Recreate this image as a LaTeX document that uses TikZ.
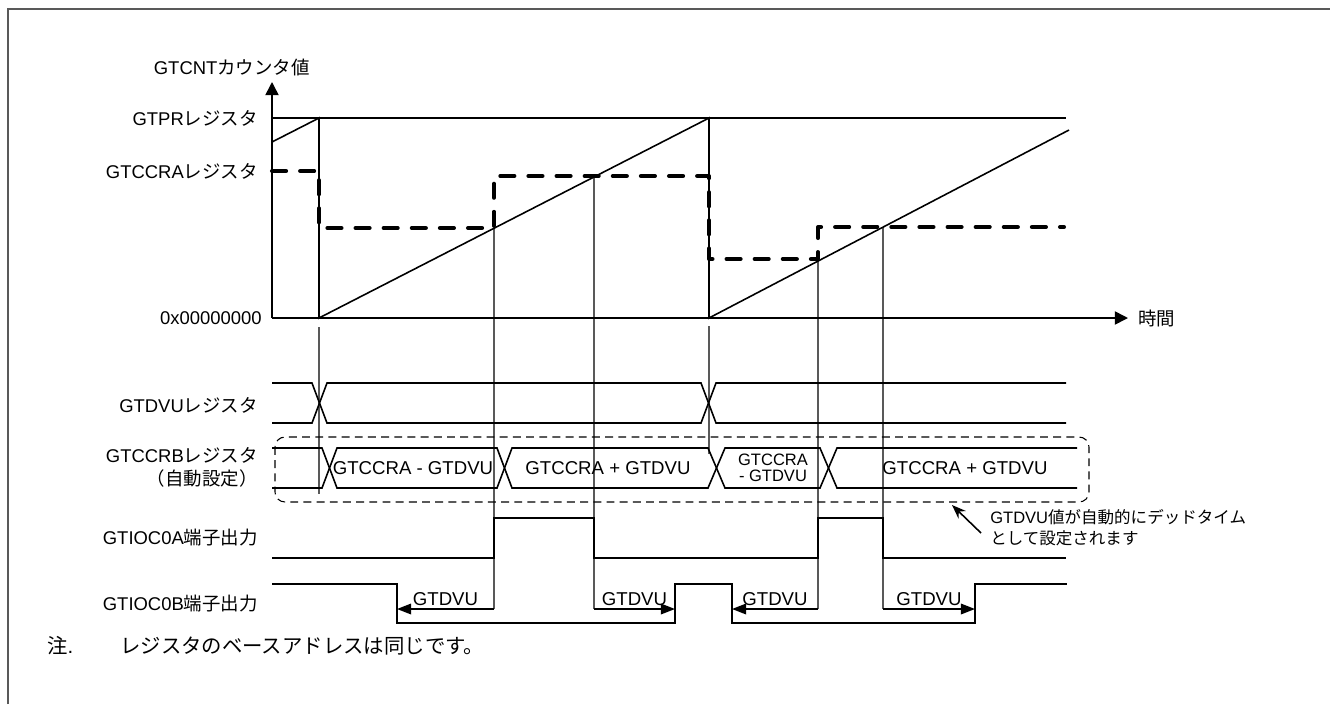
\documentclass[tikz,border=0pt]{standalone}
\usepackage{fontspec}
\setmainfont{Liberation Sans}
\newfontfamily\jpfont{Noto Sans CJK JP}
\usepackage{tikz}
\usetikzlibrary{positioning, arrows.meta}

\begin{document}
\begin{tikzpicture}[x=0.02cm, y=-0.02cm,
      lbl/.style={anchor=east, inner sep=0pt, font=\fontsize{10.5}{12.6}\selectfont},
      val/.style={inner sep=0pt, font=\fontsize{10.6}{12}\selectfont},
      smalltxt/.style={inner sep=0pt, font=\fontsize{9.4}{12}\selectfont},
      notetxt/.style={anchor=west, inner sep=0pt, font=\fontsize{11.6}{13}\selectfont},
      axis/.style={line width=0.9pt, -{Triangle[length=7.5pt, width=7.5pt]}},
      sig/.style={line width=0.9pt},
      thinsig/.style={line width=0.6pt},
      tline/.style={black!65, line width=0.6pt},
      cmpline/.style={line width=2.3pt, dash pattern=on 8pt off 8pt, line cap=round, line join=round},
      dvarr/.style={line width=0.9pt, -{Triangle[length=8pt, width=6pt]}},
      annarr/.style={line width=0.9pt, -{Stealth[length=8pt, width=6pt]}},
      autobox/.style={dashed, line width=0.6pt, dash pattern=on 4.5pt off 3pt, rounded corners=0.2cm},
    ]
    \useasboundingbox (0,0) rectangle (1330,704);
    % outer frame
    \draw[black!65, line width=1.2pt] (8,704) -- (8,9) -- (1330,9);

    % Row labels
    \node[lbl] (cntlbl) at (310,67) {GTCNT\jpfont カウンタ値};
    \node[lbl] (prlbl) at (258,118) {GTPR\jpfont レジスタ};
    \node[lbl] (ccralbl) at (258,171) {GTCCRA\jpfont レジスタ};
    \node[lbl] (zerolbl) at (262,318) {0x00000000};
    \node[lbl] (dvulbl) at (258,405) {GTDVU\jpfont レジスタ};
    \node[lbl] (ccrblbl) at (258,455) {GTCCRB\jpfont レジスタ};
    \node[lbl] (autolbl) at (258,478) {\jpfont （自動設定）};
    \node[lbl] (albl) at (258,538) {GTIOC0A\jpfont 端子出力};
    \node[lbl] (blbl) at (258,604) {GTIOC0B\jpfont 端子出力};
    \node[lbl, anchor=west] (timelbl) at (1138,318) {\jpfont 時間};

    % timing markers
    \draw[tline] (319,327) -- (319,494);
    \draw[tline] (709,326) -- (709,454);
    \foreach \x/\y in {494/228, 594/176, 818/259, 883/227}
      \draw[tline] (\x,\y) -- (\x,609);

    % Counter chart
    \draw[thinsig] (272,118) -- (1066,118);
    \draw[axis] (272,318) -- (272,82);
    \draw[axis] (272,318) -- (1128,318);
    \draw[sig] (272,142) -- (319,118) -- (319,318) -- (709,118) -- (709,318) -- (1069,130);
    \draw[cmpline] (272,171) -- (319,171) -- (319,228) -- (494,228) -- (494,176) -- (709,176)
      -- (709,259) -- (818,259) -- (818,227) -- (1064,227);

    % GTDVU register
    \draw[sig] (272,383) -- (312,383) -- (327,423) -- (701,423) -- (716,383) -- (1066,383);
    \draw[sig] (272,423) -- (312,423) -- (327,383) -- (701,383) -- (716,423) -- (1066,423);

    % GTCCRB register (automatic)
    \draw[sig] (272,448) -- (322,448) -- (337,488) -- (497,488) -- (512,448) -- (708,448)
      -- (725,488) -- (820,488) -- (837,448) -- (1077,448);
    \draw[sig] (272,488) -- (322,488) -- (337,448) -- (497,448) -- (512,488) -- (708,488)
      -- (725,448) -- (820,448) -- (837,488) -- (1077,488);
    \node[val] (bval1) at (413,468) {GTCCRA - GTDVU};
    \node[val] (bval2) at (608,468) {GTCCRA + GTDVU};
    \node[smalltxt, align=center, font=\fontsize{9.4}{9.4}\selectfont] (bval3) at (773,468) {GTCCRA\\- GTDVU};
    \node[val] (bval4) at (965,468) {GTCCRA + GTDVU};
    \draw[autobox] (275,437) rectangle (1089,502);

    % note on the dashed box
    \node[smalltxt, anchor=west, align=left] (autonote) at (990,528)
      {GTDVU\jpfont 値が自動的にデッドタイム\\\jpfont として設定されます};
    \coordinate (anntail) at (981,533);
    \coordinate (anntip) at (952,505);
    \draw[annarr] (anntail) -- (anntip);

    % GTIOC0A
    \draw[sig] (272,558) -- (494,558) -- (494,518) -- (594,518) -- (594,558) -- (818,558)
      -- (818,518) -- (883,518) -- (883,558) -- (1066,558);

    % GTIOC0B
    \draw[sig] (272,584) -- (397,584) -- (397,623) -- (675,623) -- (675,584) -- (732,584)
      -- (732,623) -- (975,623) -- (975,584) -- (1067,584);

    % dead time
    \foreach \a/\b/\n in {494/397/dv1, 594/675/dv2, 818/732/dv3, 883/975/dv4} {
      \coordinate (\n s) at (\a,609);
      \coordinate (\n e) at (\b,609);
      \draw[dvarr] (\n s) -- node[val, above=0.05cm] (\n lbl) {GTDVU} (\n e);
    }

    % footnote
    \node[notetxt] (notemark) at (47,646) {{\jpfont 注}.};
    \node[notetxt] (notebody) at (120,646) {\jpfont レジスタのベースアドレスは同じです。};
\end{tikzpicture}
\end{document}
